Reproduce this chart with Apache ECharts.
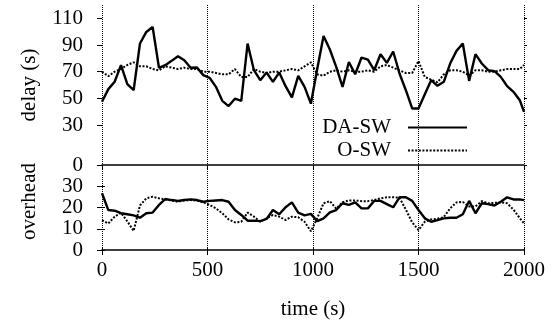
<!DOCTYPE html>
<html><head><meta charset="utf-8">
<script src="https://cdn.jsdelivr.net/npm/echarts@6/dist/echarts.min.js"></script>
<style>html,body{margin:0;padding:0;background:#fff}#c{width:556px;height:328px}</style>
</head><body><div id="c"></div>
<script>
const times = [0,30,60,90,120,150,180,210,240,270,300,330,360,390,420,450,480,510,540,570,600,630,660,690,720,750,780,810,840,870,900,930,960,990,1020,1050,1080,1110,1140,1170,1200,1230,1260,1290,1320,1350,1380,1410,1440,1470,1500,1530,1560,1590,1620,1650,1680,1710,1740,1770,1800,1830,1860,1890,1920,1950,1980,2000];
const delayDA = [47.4,56.9,62.4,74.9,60.6,56.1,91.1,99.8,103.5,72.9,74.9,78.1,81.6,78.6,72.9,73.1,67.4,65.4,58.6,48.1,44.2,49.7,48.1,91.1,71.1,63.6,69.4,62.4,69.4,59.1,50.7,66.9,58.6,46,72,96.8,86.6,73.6,58.6,77.3,68.1,80.6,79.1,71.1,83.1,76.6,85.1,68.6,56.1,42.4,42.4,53.1,63.6,59.4,62.4,76.1,85.6,91.1,63.1,83.1,76.1,71.1,70.4,66.1,59.1,54.9,48.6,39.9];
const delayO = [70,66.6,70,72,75,77,74,74,72,71,74,73,72,73,72,72,70,70,69,68,68,72,66,66,72,70,69,70,70,71,72,71,74,77,68,67,70,71,70,71,70,70,71,70,74,75,73,71,69,69,78,66,64,62,68,71,71,70,67,71,71,70,70,71,72,72,72,75];
const overDA = [26.7,18.8,18.5,17.3,16.8,16.3,15.2,17.3,17.6,21.2,24.0,23.5,23.1,23.5,23.8,23.5,22.7,23.1,23.3,23.5,22.7,18.8,16.5,13.8,13.8,13.6,14.6,18.8,16.8,20.1,22.4,17.6,16.3,17.0,13.6,14.9,17.7,18.8,22,21.2,22.4,19.6,19.6,23.1,23.1,21.6,20.1,24.8,24.8,23.1,18.8,14.9,13.3,14.1,14.9,15.2,15.2,16.8,23.1,17.3,22,21.6,20.9,22.7,24.8,23.8,23.8,23.5];
const overO = [14,12.5,15.7,17.5,13.5,9,21,24.3,25.1,24.3,23.8,23.3,22.7,23.3,23.5,23.3,22.4,21.2,19.6,17.3,14.4,13,13.3,17.6,15.7,13.3,14.9,16.5,15.7,14.1,15.7,15.4,13.3,8.8,15,22,23,19.5,22.5,23.3,23.3,23,23,23.5,24.3,24.8,24.8,24.6,19,13,9.4,13.3,14.4,14.7,15.5,19.6,22.4,22.6,20.5,20.5,23,22,22.2,22.4,22,19,15,12.5];
const xTicks = [0,500,1000,1500,2000];
const delayTicks = [0,30,50,70,90,110];
const overTicks = [0,10,20,30];
const seriesNames = ['DA-SW','O-SW'];

const pair = arr => times.map((t,i)=>[t,arr[i]]);
const FONT = 'Liberation Serif';
const txt = {fontFamily:FONT,fontSize:21,color:'#000'};
const gridLine = {show:true,lineStyle:{color:'#000',width:1,type:[1,1]}};

const xBase = (gi, showLabels) => ({
  type:'value', gridIndex:gi, min:0, max:2000, interval:500,
  axisLine:{show:true,onZero:false,lineStyle:{color:'#000',width:1.5}},
  axisTick:{show:true,inside:false,length:5,customValues:xTicks,lineStyle:{color:'#000',width:1}},
  axisLabel:{show:showLabels,margin:10,customValues:xTicks,formatter:v=>String(v),...txt},
  splitLine:gridLine
});
const yBase = (gi, max, ticks, pos, showLabels) => ({
  type:'value', gridIndex:gi, min:0, max:max, position:pos,
  axisLine:{show:false},
  axisTick:{show:true,inside:false,length:pos==='left'?5:3,customValues:ticks,lineStyle:{color:'#000',width:1}},
  axisLabel:{show:showLabels,customValues:ticks,margin:19,formatter:v=>String(v),...txt},
  splitLine:{show:false}
});

const legendBase = (name, top) => ({
  data:[name],right:88,top:top,orient:'vertical',align:'right',padding:0,itemWidth:59,itemHeight:14,
  itemStyle:{opacity:0,borderWidth:0},
  textStyle:{...txt,padding:[0,12,0,0]}
});

const chart = echarts.init(document.getElementById('c'));
chart.setOption({
  animation:false,
  backgroundColor:'#fff',
  grid:[
    {left:102,right:32,top:5,height:160},
    {left:102,right:32,top:165,height:85}
  ],
  xAxis:[
    xBase(0,false),
    Object.assign(xBase(1,true),{name:'time (s)',nameLocation:'middle',nameGap:49,nameTextStyle:txt}),
    Object.assign(xBase(1,false),{position:'top',axisLine:{show:false},axisTick:{show:true,length:3,customValues:xTicks,lineStyle:{color:'#000'}},splitLine:{show:false}})
  ],
  yAxis:[
    Object.assign(yBase(0,120,delayTicks,'left',true),{name:'delay (s)',nameLocation:'middle',nameGap:62,nameTextStyle:txt}),
    yBase(0,120,delayTicks,'right',false),
    Object.assign(yBase(1,40,overTicks,'left',true),{name:'overhead',nameLocation:'middle',nameGap:62,nameTextStyle:{...txt,padding:[0,0,0,12]}}),
    yBase(1,40,overTicks,'right',false)
  ],
  legend:[legendBase(seriesNames[0],117), legendBase(seriesNames[1],140)],
  series:[
    {name:seriesNames[0],type:'line',xAxisIndex:0,yAxisIndex:0,data:pair(delayDA),symbol:'none',
     lineStyle:{color:'#000',width:2.4},itemStyle:{color:'#000'},z:3},
    {name:seriesNames[1],type:'line',xAxisIndex:0,yAxisIndex:0,data:pair(delayO),symbol:'none',
     lineStyle:{color:'#000',width:2,type:[2,1.6]},itemStyle:{color:'#000'},z:2},
    {name:seriesNames[0],type:'line',xAxisIndex:1,yAxisIndex:2,data:pair(overDA),symbol:'none',
     lineStyle:{color:'#000',width:2.4},itemStyle:{color:'#000'},z:3},
    {name:seriesNames[1],type:'line',xAxisIndex:1,yAxisIndex:2,data:pair(overO),symbol:'none',
     lineStyle:{color:'#000',width:2,type:[2,1.6]},itemStyle:{color:'#000'},z:2}
  ]
});
</script></body></html>
